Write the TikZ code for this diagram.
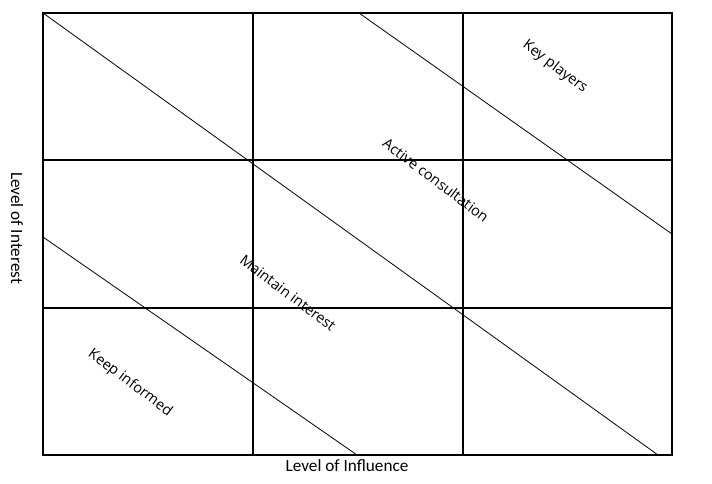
\documentclass[tikz,border=0pt]{standalone}
\usepackage{fontspec}
\setmainfont{Carlito}
\newfontfamily\labfont{Open Sans}
\begin{document}
\begin{tikzpicture}[x=0.75pt,y=-0.75pt,
  outer/.style={draw=black,line width=1.1pt},
  gridline/.style={draw=black,line width=1.5pt},
  diag/.style={draw=black,line width=0.6pt},
  zone/.style={font=\labfont\fontsize{10.9pt}{12pt}\selectfont,rotate=-37,inner sep=0pt},
  axis/.style={font=\fontsize{12.9pt}{14pt}\selectfont,inner sep=0pt}]
\useasboundingbox (0,0) rectangle (712,483);
\fill[white] (0,0) rectangle (712,483);
% grid
\draw[gridline] (253,13) -- (253,455);
\draw[gridline] (463,13) -- (463,455);
\draw[gridline] (43,160) -- (672,160);
\draw[gridline] (43,308) -- (672,308);
\draw[outer] (43,13) rectangle (672,455);
% diagonals
\coordinate (d1a) at (43,13);
\coordinate (d1b) at (658,455);
\coordinate (d2a) at (359,13);
\coordinate (d2b) at (672,234);
\coordinate (d3a) at (43,237);
\coordinate (d3b) at (357,455);
\draw[diag] (d1a) -- (d1b);
\draw[diag] (d2a) -- (d2b);
\draw[diag] (d3a) -- (d3b);
% labels
\node[zone] (kp) at (555,67) {Key players};
\node[zone] (ac) at (436,180) {Active consultation};
\node[zone] (mi) at (288,293) {Maintain interest};
\node[zone] (ki) at (130,383) {Keep informed};
\node[axis,rotate=-90] (yl) at (17,228) {Level of Interest};
\node[axis] (xl) at (347,466) {Level of Influence};
\end{tikzpicture}
\end{document}
